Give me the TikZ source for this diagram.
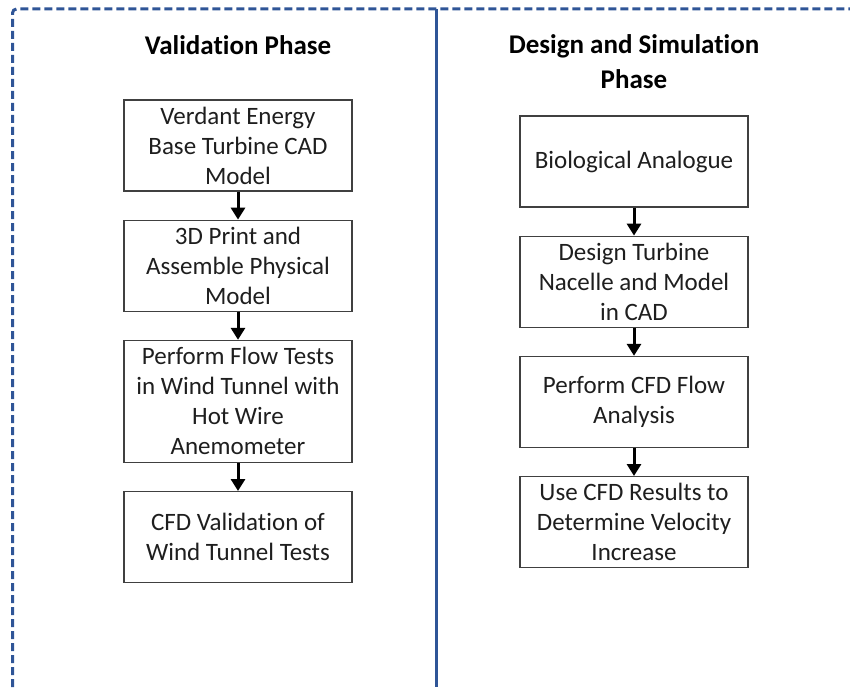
\documentclass[tikz,border=0pt]{standalone}
\usepackage{fontspec}
\setmainfont{Carlito}[Ligatures=NoCommon]
\usetikzlibrary{arrows.meta,positioning}

\definecolor{frameblue}{RGB}{47,85,151}
\definecolor{boxline}{RGB}{64,64,64}
\definecolor{boxtext}{RGB}{30,30,30}

\tikzset{
  stage/.style={draw=boxline, line width=1.2pt, text=boxtext,
    minimum width=228pt, minimum height=91pt,
    align=center, inner sep=4pt, font=\fontsize{25}{30}\selectfont},
  phase/.style={align=center, font=\bfseries\fontsize{27}{35}\selectfont},
  flow/.style={-{Triangle[width=14pt,length=12pt]}, line width=3pt},
  frame/.style={frameblue, line width=3pt, dash pattern=on 8pt off 4pt}
}

\begin{document}
\begin{tikzpicture}[x=1pt, y=1pt, node distance=28pt]
    \useasboundingbox (0,0) rectangle (850,-687);

    % outer dashed frame and the divider between the two phases
    \draw[frame, rounded corners=4pt] (12.5,-687) -- (12.5,-9) -- (850,-9);
    \draw[frameblue, line width=3pt] (436.5,-9) -- (436.5,-687);

    % validation phase
    \node[phase] (valtitle) at (238,-45) {Validation Phase};
    \node[stage] (cad)    at (238,-145.5) {Verdant Energy\\Base Turbine CAD\\Model};
    \node[stage, below = of cad]    (print)  {3D Print and\\Assemble Physical\\Model};
    \node[stage, below = of print, minimum height=122pt] (tunnel) {Perform Flow Tests\\in Wind Tunnel with\\Hot Wire\\Anemometer};
    \node[stage, below = of tunnel] (cfdval) {CFD Validation of\\Wind Tunnel Tests};

    % design and simulation phase
    \node[phase] (destitle) at (634,-62) {Design and Simulation\\Phase};
    \node[stage] (bio)    at (634,-161.5) {Biological Analogue};
    \node[stage, below = of bio]     (nacelle) {Design Turbine\\Nacelle and Model\\in CAD};
    \node[stage, below = of nacelle] (cfdflow) {Perform CFD Flow\\Analysis};
    \node[stage, below = of cfdflow] (velo)    {Use CFD Results to\\Determine Velocity\\Increase};

    \draw[flow] (cad) -- (print);
    \draw[flow] (print) -- (tunnel);
    \draw[flow] (tunnel) -- (cfdval);

    \draw[flow] (bio) -- (nacelle);
    \draw[flow] (nacelle) -- (cfdflow);
    \draw[flow] (cfdflow) -- (velo);
\end{tikzpicture}
\end{document}
